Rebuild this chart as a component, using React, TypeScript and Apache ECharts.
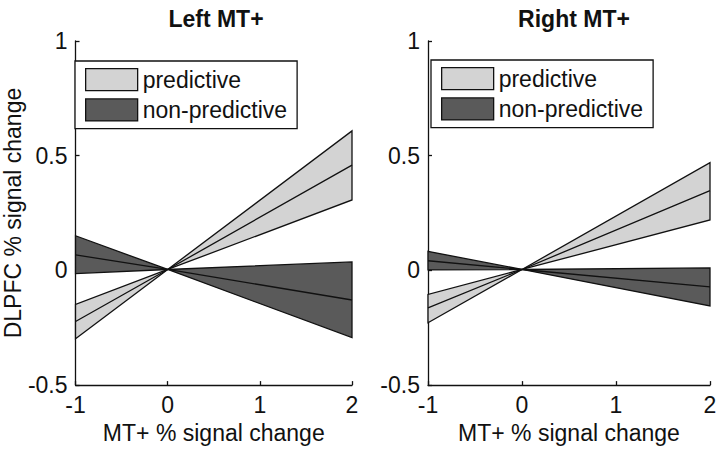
import React, { useEffect, useRef } from "react";
import * as echarts from "echarts";

// x positions where the fitted lines are sampled
const X_POINTS = [-1, 0, 2];
const X_TICKS = [-1, 0, 1, 2];
const Y_TICKS = [-0.5, 0, 0.5, 1];

const PANEL_TITLES = ["Left MT+", "Right MT+"];
const LEGEND_NAMES = ["predictive", "non-predictive"];

// Left MT+ : predictive band (steep edge, mean, shallow edge)
const leftPredSteep = [-0.298, 0.004, 0.608];
const leftPredMean = [-0.223, 0.004, 0.459];
const leftPredShallow = [-0.148, 0.004, 0.307];
// Left MT+ : non-predictive band
const leftNonSteep = [0.151, 0.004, -0.293];
const leftNonMean = [0.068, 0.004, -0.129];
const leftNonShallow = [-0.014, 0.004, 0.037];

// Right MT+ : predictive band
const rightPredSteep = [-0.228, 0.004, 0.47];
const rightPredMean = [-0.163, 0.004, 0.348];
const rightPredShallow = [-0.105, 0.004, 0.22];
// Right MT+ : non-predictive band
const rightNonSteep = [0.083, 0.004, -0.155];
const rightNonMean = [0.042, 0.004, -0.072];
const rightNonShallow = [0.002, 0.004, 0.011];

const LIGHT = "#d3d3d3";
const DARK = "#5a5a5a";
const INK = "#111111";
const FONT = "Liberation Sans, Arial, sans-serif";

function bandSeries(name: string, idx: number, a: number[], b: number[], color: string) {
  return {
    type: "custom",
    name,
    xAxisIndex: idx,
    yAxisIndex: idx,
    data: [[0, 0]],
    z: 2,
    itemStyle: { color },
    renderItem: (_p: any, api: any) => {
      const pts = X_POINTS.map((x, i) => api.coord([x, a[i]])).concat(
        X_POINTS.map((x, i) => api.coord([x, b[i]])).reverse()
      );
      return {
        type: "polygon",
        shape: { points: pts },
        style: { fill: color, stroke: INK, lineWidth: 1.3, lineJoin: "miter" },
      };
    },
  };
}

function meanSeries(name: string, idx: number, ys: number[]) {
  return {
    type: "line",
    name,
    xAxisIndex: idx,
    yAxisIndex: idx,
    data: X_POINTS.map((x, i) => [x, ys[i]]),
    symbol: "none",
    z: 3,
    lineStyle: { color: INK, width: 1.3 },
  };
}

export default function App() {
  const ref = useRef<HTMLDivElement>(null);
  useEffect(() => {
    document.body.style.margin = "0";
    const chart = echarts.init(ref.current!, null, { renderer: "svg" });
    const grids = [
      { left: 70, top: 41, width: 282, height: 346 },
      { left: 428, top: 41, width: 282, height: 346 },
    ];
    const axisCommon = {
      axisLine: { show: true, onZero: false, lineStyle: { color: INK, width: 1.3 } },
      axisTick: { show: true, inside: true, length: 4, lineStyle: { color: INK, width: 1.3 } },
      splitLine: { show: false },
      axisLabel: { color: INK, fontSize: 23, fontFamily: FONT, margin: 8 },
    };
    const xAxes = [0, 1].map((i) => ({
      ...axisCommon,
      type: "value",
      gridIndex: i,
      min: X_TICKS[0],
      max: X_TICKS[X_TICKS.length - 1],
      interval: 1,
      name: "MT+ % signal change",
      nameLocation: "middle",
      nameGap: 33,
      nameTextStyle: { color: INK, fontSize: 23, fontFamily: FONT },
    }));
    const yAxes = [0, 1].map((i) => ({
      ...axisCommon,
      type: "value",
      gridIndex: i,
      min: Y_TICKS[0],
      max: Y_TICKS[Y_TICKS.length - 1],
      interval: 0.5,
      name: i === 0 ? "DLPFC % signal change" : "",
      nameLocation: "middle",
      nameGap: 40,
      nameTextStyle: { color: INK, fontSize: 23, fontFamily: FONT },
    }));
    const legendData = [
      { name: LEGEND_NAMES[0], icon: "rect", itemStyle: { color: LIGHT, borderColor: INK, borderWidth: 1.3 } },
      { name: LEGEND_NAMES[1], icon: "rect", itemStyle: { color: DARK, borderColor: INK, borderWidth: 1.3 } },
    ];
    const legendCommon = {
      orient: "vertical",
      data: legendData,
      selectedMode: false,
      borderColor: INK,
      borderWidth: 1.3,
      backgroundColor: "#ffffff",
      padding: [7, 10, 7, 10],
      itemGap: 7,
      itemWidth: 52,
      itemHeight: 22,
      textStyle: { color: INK, fontSize: 23, fontFamily: FONT },
    };
    chart.setOption({
      animation: false,
      backgroundColor: "#ffffff",
      title: PANEL_TITLES.map((t, i) => ({
        text: t,
        left: grids[i].left + grids[i].width / 2,
        textAlign: "center",
        top: 2,
        textStyle: { color: INK, fontSize: 23, fontWeight: "bold", fontFamily: FONT },
      })),
      legend: [
        { ...legendCommon, left: 75, top: 61 },
        { ...legendCommon, left: 431, top: 60 },
      ],
      grid: grids,
      xAxis: xAxes,
      yAxis: yAxes,
      series: [
        bandSeries("predictive", 0, leftPredSteep, leftPredShallow, LIGHT),
        meanSeries("predictive mean L", 0, leftPredMean),
        bandSeries("non-predictive", 0, leftNonSteep, leftNonShallow, DARK),
        meanSeries("non-predictive mean L", 0, leftNonMean),
        bandSeries("predictive", 1, rightPredSteep, rightPredShallow, LIGHT),
        meanSeries("predictive mean R", 1, rightPredMean),
        bandSeries("non-predictive", 1, rightNonSteep, rightNonShallow, DARK),
        meanSeries("non-predictive mean R", 1, rightNonMean),
      ],
    });
    return () => chart.dispose();
  }, []);
  return <div ref={ref} style={{ width: 720, height: 449 }} />;
}
